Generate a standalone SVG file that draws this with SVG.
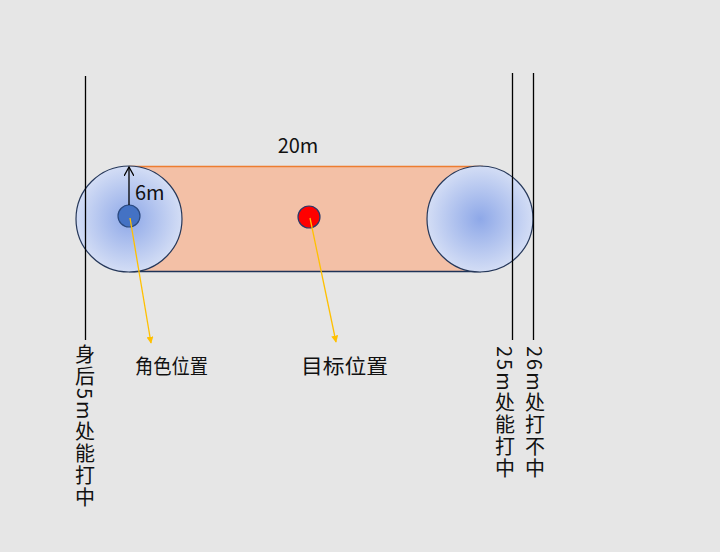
<svg xmlns="http://www.w3.org/2000/svg" width="720" height="552" viewBox="0 0 720 552">
<style>
.t{font-family:"Noto Sans CJK SC","Liberation Sans",sans-serif;font-size:20px;fill:#111}
.v{font-family:"Noto Sans CJK SC","Liberation Sans",sans-serif;font-size:20px;fill:#111;writing-mode:vertical-rl;letter-spacing:2px}
.ln{stroke:#000;stroke-width:1.3}
.ya{stroke:#FFC000;stroke-width:1.3;marker-end:url(#yh)}
.big{fill:url(#rg);stroke:#26385A;stroke-width:1.2}
</style>
<defs>
<radialGradient id="rg" cx="0.5" cy="0.5" r="0.5">
<stop offset="0" stop-color="#8EA8E8"/>
<stop offset="1" stop-color="#D3DDF5"/>
</radialGradient>
<marker id="yh" viewBox="0 0 10 10" refX="9" refY="5" markerWidth="7" markerHeight="7" orient="auto" markerUnits="userSpaceOnUse">
<path d="M0,0 L10,5 L0,10 z" fill="#FFC000"/>
</marker>
<marker id="oh" viewBox="0 0 10 10" refX="9" refY="5" markerWidth="10" markerHeight="10" orient="auto" markerUnits="userSpaceOnUse">
<path d="M0,0 L9,5 L0,10" fill="none" stroke="#000" stroke-width="1.3"/>
</marker>
</defs>
<rect width="720" height="552" fill="#E6E6E6"/>
<g id="band">
<rect x="129" y="166" width="352" height="106" fill="#F3C0A6"/>
<line x1="129" y1="166.5" x2="483" y2="166.5" stroke="#ED7D31" stroke-width="1.5"/>
<line x1="129" y1="271.5" x2="481" y2="271.5" stroke="#1F3358" stroke-width="1.5"/>
</g>
<g id="left-range"><circle class="big" cx="129" cy="219" r="53"/></g>
<g id="right-range"><circle class="big" cx="480" cy="219" r="53"/></g>
<g id="lines">
<line class="ln" x1="85.5" y1="76" x2="85.5" y2="340"/>
<line class="ln" x1="512.5" y1="73" x2="512.5" y2="340"/>
<line class="ln" x1="533.5" y1="73" x2="533.5" y2="340"/>
</g>
<g id="role"><circle cx="129" cy="216" r="11" fill="#4472C4" stroke="#2B4A80" stroke-width="1.2"/></g>
<g id="target"><circle cx="309" cy="217" r="11" fill="#FF0000" stroke="#2B3A6A" stroke-width="1.2"/></g>
<g id="connectors">
<line x1="129" y1="205" x2="129" y2="167" stroke="#000" stroke-width="1.3" marker-end="url(#oh)"/>
<line class="ya" x1="130" y1="218" x2="151" y2="343"/>
<line class="ya" x1="310" y1="218" x2="336" y2="342"/>
</g>
<g id="labels">
<text class="t" x="298" y="153" text-anchor="middle">20m</text>
<text class="t" x="135" y="200">6m</text>
<text class="t" x="135" y="374" textLength="73" lengthAdjust="spacingAndGlyphs">角色位置</text>
<text class="t" x="301" y="374" textLength="87" lengthAdjust="spacingAndGlyphs">目标位置</text>
<text class="v" x="85" y="344">身后5m处能打中</text>
<text class="v" x="505" y="346">25m处能打中</text>
<text class="v" x="535" y="346">26m处打不中</text>
</g>
</svg>
